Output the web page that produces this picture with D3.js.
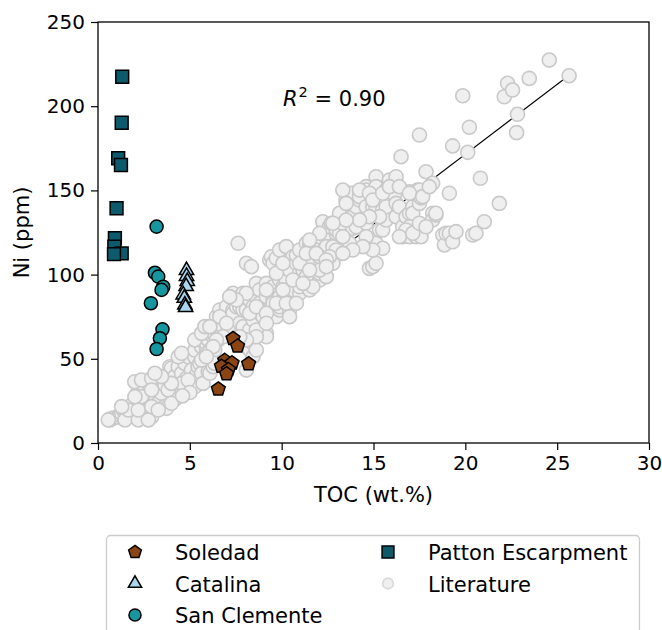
<!DOCTYPE html>
<html>
<head>
<meta charset="utf-8">
<script src="https://cdn.jsdelivr.net/npm/d3@7"></script>
<style>
  body { margin: 0; background: #fff; }
  svg { display: block; }
  text { font-family: "DejaVu Sans", sans-serif; fill: #000; }
</style>
</head>
<body>
<svg id="chart" width="662" height="630"></svg>
<script>
// ---- data: TOC (wt.%) vs Ni (ppm) ----
const xTicks = [0, 5, 10, 15, 20, 25, 30];
const yTicks = [0, 50, 100, 150, 200, 250];

const soledad = [[7.35,62],[7.6,57.5],[6.9,49],[7.3,47.5],[8.2,47],[6.72,45.5],[7.1,43.5],[7.0,41],[6.55,32]];
const catalina = [[4.82,102.5],[4.82,99],[4.86,96],[4.8,93],[4.64,88],[4.7,86],[4.73,82],[4.77,80.5]];
const sanClemente = [[3.19,128.5],[3.1,101.1],[3.28,98.8],[3.55,92.8],[3.46,90.9],[2.88,83.0],[3.51,67.5],[3.37,62.2],[3.19,55.8]];
const patton = [[1.32,217.5],[1.29,190.2],[1.1,169.1],[1.25,165.1],[1.01,139.4],[0.92,121.6],[0.89,116.6],[1.29,112.6],[0.87,112.2]];

const literature = [
  [0.65,13.7],[0.74,14.5],[0.9,15],[1.1,15.6],[1.2,16.6],[1.29,17.6],[1.38,19.6],[1.5,14.5],[1.65,15.6],[1.83,22.6],
  [2.01,17.6],[2.1,28.5],[2.19,23.6],[2.2,31.5],[2.37,15.6],[2.55,19.6],[2.55,32.5],[2.74,25.5],[2.83,31.5],[2.92,15.6],
  [3.0,37.4],[3.1,28.5],[3.28,23.6],[3.28,34.4],[3.46,29.5],[3.64,21.6],[3.64,34.4],[3.73,20.6],[2.0,36.4],[2.37,37.4],
  [2.92,38.4],[3.91,45.3],[4.0,44.4],[4.09,35.4],[4.2,26],[4.18,39.4],[4.37,45.3],[4.55,41.4],[4.73,47.3],[4.82,38.4],
  [4.91,51.2],[5.09,43.3],[5.27,51.2],[5.27,55.2],[5.27,38.4],[5.27,33.4],[5.36,40.4],[5.45,45.3],[5.54,47.3],[5.64,57.2],
  [5.64,41.4],[5.72,61.2],[5.72,49.3],[5.72,35.4],[5.82,49.3],[5.9,53.3],[5.9,57.2],[5.9,59.2],[5.9,67.1],[6.0,61.2],
  [6.0,42.3],[6.09,65.1],[6.09,55.2],[6.09,41.4],[6.18,67.1],[6.18,47.3],[6.27,63.1],[6.27,51.2],[6.27,45.3],[6.36,64.1],
  [6.45,67.1],[6.45,75.0],[6.63,69.1],[6.63,71.1],[6.63,79.0],[6.72,70.1],[6.81,69.1],[7.0,79.0],[7.0,80.9],[7.17,75.0],
  [7.35,79.0],[7.35,77],[7.35,67.1],[7.35,88.9],[7.54,80.9],[7.54,67.1],[7.63,118.6],[7.72,80.9],[7.72,86.9],[7.72,71.1],
  [7.9,88.9],[7.9,69.1],[7.9,63.1],[7.9,79],[8.08,79.0],[8.08,106.7],[8.08,43.3],[8.26,84.9],[8.26,67.1],[8.26,55.2],
  [8.35,104.7],[8.44,80.9],[8.44,73.0],[8.44,59.2],[8.44,51.2],[8.62,55.2],[8.62,94.8],[8.62,86.9],[8.8,90.9],[8.8,83.0],
  [8.8,77.0],[8.98,75.0],[8.98,67.1],[9.17,94.8],[9.17,86.9],[9.17,79.0],[9.17,65.1],[9.17,63.1],[9.35,79.0],[9.35,108.7],
  [9.44,110.6],[9.53,106.7],[9.53,92.8],[9.53,84.9],[9.53,83.0],[9.71,75.0],[9.71,109.7],[9.89,114.6],[9.89,96.8],[9.89,88.9],
  [9.89,86.9],[9.89,79.0],[9.89,80.9],[10.07,84.9],[10.07,92.8],[10.25,116.6],[10.25,102.7],[10.25,94.8],[10.25,96.8],[10.43,102.7],
  [10.43,86.9],[10.43,88.9],[10.43,79.0],[10.43,75.0],[10.61,110.6],[10.61,90.9],[10.8,106.7],[10.8,111.6],[10.98,114.6],[10.98,96.8],
  [10.98,100.8],[10.98,88.9],[10.98,92.8],[11.16,102.7],[11.34,118.6],[11.34,94.8],[11.52,108.7],[11.52,116.6],[11.52,90.9],[11.7,118.6],
  [11.7,98.8],[11.7,96.8],[11.7,94.8],[11.7,119.5],[12.07,122.5],[12.07,104.7],[12.07,96.8],[12.07,100.8],[12.24,131.4],[12.43,124.5],
  [12.43,114.6],[12.43,106.7],[12.43,116.6],[12.43,98.8],[12.6,128.4],[12.6,106.7],[12.7,130.5],[12.79,116.6],[12.79,108.7],[12.79,106.7],
  [12.97,114.6],[12.97,124.5],[12.97,126.5],[13.15,136.4],[13.15,124.5],[13.33,130.5],[13.5,144.3],[13.7,148.3],[13.7,144.3],[13.7,118.6],
  [13.87,148.3],[13.87,138.4],[13.87,134.4],[13.87,128.4],[13.87,127.5],[14.06,140.3],[14.06,128.4],[14.24,144.3],[14.24,146.3],[14.6,152.2],
  [14.6,150.2],[14.6,140.3],[14.6,130.5],[14.78,116.6],[14.78,103.7],[14.96,140.3],[14.96,104.7],[15.14,158.1],[15.14,152.2],[15.14,140.3],
  [15.14,118.6],[15.14,106.7],[15.33,126.5],[15.5,144.3],[15.5,138.4],[15.5,126.5],[15.5,115.6],[15.69,150.2],[15.69,132.4],[15.69,140.3],
  [15.87,155.2],[15.87,156.2],[16.05,148.3],[16.14,147.3],[16.23,158.1],[16.23,142.3],[16.23,134.4],[16.41,140.3],[16.5,170],[16.59,128.4],
  [16.59,122.5],[16.77,134.4],[16.96,149.2],[16.96,136.4],[16.96,128.4],[16.96,122.5],[17.14,140.3],[17.14,136.4],[17.32,124.5],[17.32,122.5],
  [17.41,150.2],[17.5,182.9],[17.5,144.3],[17.5,142.3],[17.5,150.2],[17.59,122.5],[17.59,145.6],[17.86,161.1],[18.22,154.2],[18.22,136.4],
  [18.22,132.4],[18.4,135.4],[18.77,123.5],[18.86,117.6],[18.95,124.5],[19.13,148.3],[19.13,124.5],[19.31,176.4],[19.31,119.5],[19.49,125.5],
  [19.86,206.2],[20.13,172.6],[20.22,187.5],[20.4,123.5],[20.58,124.5],[20.82,157.2],[21.03,131.4],[21.85,142.3],[22.12,205.6],[22.3,213.6],
  [22.57,209.6],[22.79,184.3],[22.84,195.2],[23.48,216.5],[24.57,227.4],[25.65,218.1],
  // lower band, x < 7
  [0.56,13.7],[1.47,13.7],[2.19,13.7],[2.74,13.7],[1.65,19.6],[2.19,19.6],[2.92,21.6],[3.28,19.6],[1.29,21.6],[2.37,27.5],
  [2.01,27.5],[2.92,31.5],[3.82,31.5],[4.0,23.6],[4.55,35.4],[4.91,37.4],[4.37,51.2],[4.55,53.3],[5.27,61.2],[5.64,65.1],
  [5.82,69.1],[6.0,53.3],[6.36,55.2],[6.54,61.2],[7.08,67.1],[6.36,47.3],[5.64,49.3],[4.0,35.4],[3.46,39.4],[3.1,41.4],
  [5.0,30],[4.6,28],
  // middle band, x 6-12
  [6.63,75.0],[7.0,71.1],[6.81,63.1],[8.26,77.0],[8.62,80.9],[9.17,77.0],[9.71,83.0],[10.25,83.0],[10.8,83.0],[8.08,88.9],
  [9.17,90.9],[10.07,90.9],[10.61,96.8],[9.71,100.8],[10.07,106.7],[10.98,106.7],[11.52,114.6],[12.07,110.6],[12.6,110.6],[11.34,98.8],
  [11.7,92.8],[7.54,84.9],[7.17,86.9],[8.62,67.1],[9.17,71.1],[8.62,63.1],[8.08,61.2],[7.72,63.1],[6.45,61.2],[6.09,69.1],
  [6.27,57.2],[5.9,51.2],
  // upper band, x 11-19
  [13.33,150.2],[13.51,142.3],[14.24,150.2],[14.78,148.3],[14.96,144.3],[15.5,148.3],[15.87,152.2],[16.41,152.2],[15.33,134.4],[14.78,134.4],
  [14.24,132.4],[13.51,132.4],[12.79,130.5],[12.07,124.5],[11.52,120.5],[11.34,112.6],[11.88,112.6],[12.43,108.7],[12.07,102.7],[11.52,102.7],
  [11.16,94.8],[12.43,104.7],[13.33,122.5],[14.6,122.5],[14.96,114.6],[14.42,116.6],[13.87,114.6],[13.33,112.6],[16.77,126.5],[16.41,122.5],
  [17.14,124.5],[17.5,130.5],[17.86,128.4],[18.4,136.4],[16.96,148.3],[17.68,146.3],[18.04,152.2]
];

// least-squares line through the literature data (R² = 0.90)
const fitSlope = 8.3;
const fitIntercept = 5.5;
const fitRange = [0.65, 25.65];
const r2Label = "0.90";

const legendNames = ["Soledad", "Catalina", "San Clemente", "Patton Escarpment", "Literature"];

// ---- layout ----
const svg = d3.select("#chart");
const plot = { left: 98, right: 649, top: 22, bottom: 443 };

const x = d3.scaleLinear().domain([0, 30]).range([plot.left, plot.right]);
const y = d3.scaleLinear().domain([0, 250]).range([plot.bottom, plot.top]);

// pentagon symbol (d3 has none built in)
const symbolPentagon = {
  draw(ctx, size) {
    const r = Math.sqrt(size / 2.3776);
    for (let k = 0; k < 5; k++) {
      const a = -Math.PI / 2 + k * 2 * Math.PI / 5;
      const px = r * Math.cos(a), py = r * Math.sin(a);
      if (k === 0) ctx.moveTo(px, py); else ctx.lineTo(px, py);
    }
    ctx.closePath();
  }
};

const styles = {
  "Soledad":           { type: symbolPentagon,     size: 125, fill: "#8b4513", stroke: "#000", sw: 1.5 },
  "Catalina":          { type: d3.symbolTriangle,  size: 90,  fill: "#a9d6ec", stroke: "#000", sw: 1.5 },
  "San Clemente":      { type: d3.symbolCircle,    size: 135, fill: "#16979f", stroke: "#000", sw: 1.5 },
  "Patton Escarpment": { type: d3.symbolSquare,    size: 165, fill: "#0c5a6c", stroke: "#000", sw: 1.5 },
  "Literature":        { type: d3.symbolCircle,    size: 155, fill: "#efefef", stroke: "#c9c9c9", sw: 1.6 }
};

// axes
const xAxis = d3.axisBottom(x).tickValues(xTicks).tickSize(7).tickPadding(6);
const yAxis = d3.axisLeft(y).tickValues(yTicks).tickSize(7).tickPadding(6);

const gx = svg.append("g").attr("transform", `translate(0,${plot.bottom})`).call(xAxis);
const gy = svg.append("g").attr("transform", `translate(${plot.left},0)`).call(yAxis);
[gx, gy].forEach(g => {
  g.select(".domain").remove();
  g.selectAll(".tick line").attr("stroke", "#000").attr("stroke-width", 1.2);
  g.selectAll(".tick text").attr("font-size", 20).attr("font-family", "DejaVu Sans");
});

// regression line (under the literature points)
svg.append("line")
  .attr("x1", x(fitRange[0])).attr("y1", y(fitSlope * fitRange[0] + fitIntercept))
  .attr("x2", x(fitRange[1])).attr("y2", y(fitSlope * fitRange[1] + fitIntercept))
  .attr("stroke", "#000").attr("stroke-width", 1.1);

function drawSeries(data, name) {
  const s = styles[name];
  svg.append("g").selectAll("path").data(data).join("path")
    .attr("transform", d => `translate(${x(d[0])},${y(d[1])})`)
    .attr("d", d3.symbol().type(s.type).size(s.size))
    .attr("fill", s.fill).attr("stroke", s.stroke).attr("stroke-width", s.sw);
}

drawSeries(literature, "Literature");
drawSeries(soledad, "Soledad");
drawSeries(catalina, "Catalina");
drawSeries(sanClemente, "San Clemente");
drawSeries(patton, "Patton Escarpment");

// frame
svg.append("rect")
  .attr("x", plot.left).attr("y", plot.top)
  .attr("width", plot.right - plot.left).attr("height", plot.bottom - plot.top)
  .attr("fill", "none").attr("stroke", "#000").attr("stroke-width", 1.3);

// R² annotation
const r2 = svg.append("text").attr("x", 283).attr("y", 106).attr("font-size", 21);
r2.append("tspan").attr("font-style", "italic").text("R");
r2.append("tspan").attr("font-size", 14.5).attr("dy", -9).attr("dx", 1).text("2");
r2.append("tspan").attr("dy", 9).text(" = " + r2Label);

// axis titles
svg.append("text").attr("x", (plot.left + plot.right) / 2).attr("y", 502)
  .attr("text-anchor", "middle").attr("font-size", 21).text("TOC (wt.%)");
svg.append("text")
  .attr("transform", `translate(29,${(plot.top + plot.bottom) / 2}) rotate(-90)`)
  .attr("text-anchor", "middle").attr("font-size", 21).text("Ni (ppm)");

// legend
const legend = svg.append("g");
legend.append("rect")
  .attr("x", 106.5).attr("y", 535.5).attr("width", 533).attr("height", 120)
  .attr("rx", 4).attr("fill", "#fff").attr("stroke", "#cccccc").attr("stroke-width", 1.3);

const legendPos = [
  [135, 552], [135, 583.5], [135, 615],
  [388, 552], [388, 583.5]
];
legendNames.forEach((name, i) => {
  const s = styles[name];
  const [lx, ly] = legendPos[i];
  legend.append("path")
    .attr("transform", `translate(${lx},${ly})`)
    .attr("d", d3.symbol().type(s.type).size(name === "Literature" ? 90 : s.size * 0.85))
    .attr("fill", s.fill).attr("stroke", name === "Literature" ? "#d9d9d9" : s.stroke)
    .attr("stroke-width", s.sw);
  legend.append("text").attr("x", lx + 40).attr("y", ly + 8)
    .attr("font-size", 21).text(name);
});
</script>
</body>
</html>
